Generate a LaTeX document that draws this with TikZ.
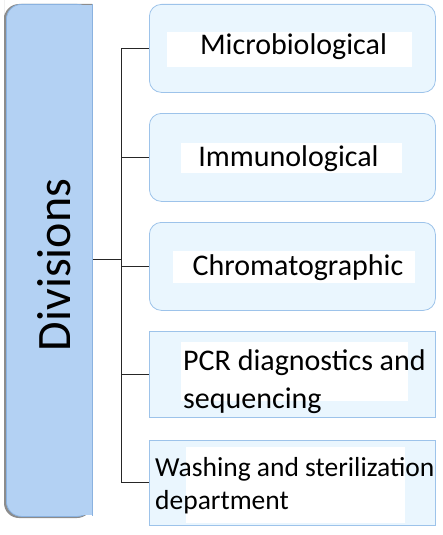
\documentclass[tikz,border=0pt]{standalone}
\usepackage{fontspec}
\setmainfont{Carlito}
\definecolor{leftfill}{HTML}{B3D1F3}
\definecolor{leftdraw}{HTML}{8AB2E0}
\definecolor{boxfill}{HTML}{EAF6FE}
\definecolor{boxdraw}{HTML}{9DC3EA}
\begin{document}
\begin{tikzpicture}[x=1pt,y=-1pt,
  rbox/.style={draw=boxdraw, fill=boxfill, line width=0.8pt, rounded corners=12pt, minimum width=286pt, minimum height=88pt, anchor=north west, inner sep=0pt},
  sbox/.style={draw=boxdraw, fill=boxfill, line width=0.8pt, minimum width=286pt, minimum height=86pt, anchor=north west, inner sep=0pt},
  wbox/.style={fill=white, anchor=north west, inner sep=0pt},
  lbl/.style={font=\fontsize{30}{36}\selectfont, inner sep=0pt, anchor=base},
  lbll/.style={lbl, anchor=base west},
  conn/.style={draw=black!85, line width=1pt}]
\useasboundingbox (0,0) rectangle (442,535);
% left box
\fill[black!45] (4,8) [rounded corners=15pt] -- (4,518) -- (92,518) [sharp corners] -- (92,4) [rounded corners=15pt] -- (4,4) -- cycle;
\node[draw=leftdraw, fill=leftfill, line width=0.8pt, minimum width=86pt, minimum height=512pt, anchor=north west, inner sep=0pt,
  rounded corners=15pt] (div) at (6,4) {};
\fill[leftfill] (80,4.6) rectangle (91.6,515.4);
\draw[leftdraw, line width=0.8pt] (92,4) -- (92,516);
\node[rotate=90, font=\fontsize{48}{50}\selectfont, inner sep=0pt, anchor=base] (divt) at (70.5,265) {Divisions};
% boxes
\node[rbox] (b1) at (149,4) {};
\node[wbox, minimum width=245pt, minimum height=35pt] (w1) at (167,32) {};
\node[lbl] (t1) at (293.5,55) {Microbiological};
\node[rbox] (b2) at (149,113) {};
\node[wbox, minimum width=221pt, minimum height=30pt] (w2) at (181,143) {};
\node[lbl] (t2) at (288.5,166.5) {Immunological};
\node[rbox] (b3) at (149,222) {};
\node[wbox, minimum width=242pt, minimum height=32pt] (w3) at (173,251) {};
\node[lbl] (t3) at (298,275) {Chromatographic};
\node[sbox] (b4) at (149,331) {};
\node[wbox, minimum width=227pt, minimum height=59pt] (w4) at (181,342) {};
\node[lbll] (t4a) at (183,370.5) {PCR diagnostics and};
\node[lbll] (t4b) at (183,408) {sequencing};
\node[sbox, minimum height=85pt] (b5) at (149,440) {};
\node[wbox, minimum width=219pt, minimum height=76pt] (w5) at (186,447) {};
\node[lbll, font=\fontsize{27.5}{33}\selectfont] (t5a) at (155,476.5) {Washing and sterilization};
\node[lbll, font=\fontsize{27.5}{33}\selectfont] (t5b) at (155,509) {department};
% connectors
\coordinate (trunk) at (121,259);
\draw[conn] (div.east |- trunk) -- (trunk);
\draw[conn] (trunk |- b1.west) -- (trunk |- b5.west);
\foreach \b in {b1,b2,b3,b4,b5} \draw[conn] (trunk |- \b.west) -- (\b.west);
\end{tikzpicture}
\end{document}
